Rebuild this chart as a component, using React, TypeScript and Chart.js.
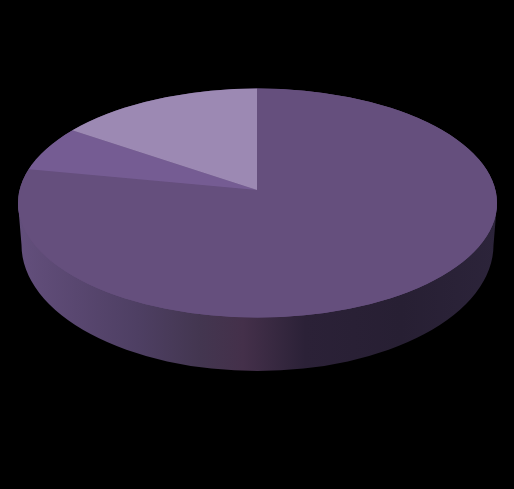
import React, { useEffect, useRef } from "react";
import { Chart, registerables } from "chart.js";

Chart.register(...registerables);

const categories = ["A", "B", "C"];
const values = [78, 6.45, 15.55];
const sliceColors = ["#654f7d", "#755c93", "#9c89b3"];

const top = { cx: 257.5, cy: 203, rx: 239.5, ry: 114.5 };
const bottom = { cx: 257.5, cy: 245, rx: 236, ry: 126 };
const apex = { x: 257, y: 190 };

const wallStops: [number, string][] = [
  [0, "#634f7c"],
  [0.12, "#594770"],
  [0.25, "#4e3f63"],
  [0.38, "#433650"],
  [0.47, "#44304a"],
  [0.6, "#2b2137"],
  [0.8, "#271f33"],
  [1, "#2c243a"],
];

const pie3d = {
  id: "pie3d",
  beforeDatasetsDraw(chart: any) {
    const ctx: CanvasRenderingContext2D = chart.ctx;
    const meta = chart.getDatasetMeta(0);
    const arc = meta.data[0];
    ctx.save();
    ctx.fillStyle = "#000";
    ctx.fillRect(0, 0, chart.width, chart.height);

    const g = ctx.createLinearGradient(top.cx - top.rx, 0, top.cx + top.rx, 0);
    wallStops.forEach(([o, c]) => g.addColorStop(o, c));
    ctx.fillStyle = g;
    ctx.beginPath();
    ctx.moveTo(top.cx - top.rx, top.cy);
    ctx.lineTo(bottom.cx - bottom.rx, bottom.cy);
    ctx.ellipse(bottom.cx, bottom.cy, bottom.rx, bottom.ry, 0, Math.PI, 0, true);
    ctx.lineTo(top.cx + top.rx, top.cy);
    ctx.closePath();
    ctx.fill();

    ctx.beginPath();
    ctx.ellipse(top.cx, top.cy, top.rx, top.ry, 0, 0, Math.PI * 2);
    ctx.fillStyle = sliceColors[0];
    ctx.fill();
    ctx.clip();
    ctx.translate(apex.x, apex.y);
    ctx.scale(1, top.ry / top.rx);
    ctx.translate(-arc.x, -arc.y);
  },
  afterDatasetsDraw(chart: any) {
    chart.ctx.restore();
  },
};

export default function App() {
  const ref = useRef<HTMLCanvasElement>(null);
  useEffect(() => {
    document.body.style.margin = "0";
    document.body.style.background = "#000";
    const chart = new Chart(ref.current!, {
      type: "pie",
      data: {
        labels: categories,
        datasets: [
          {
            data: values,
            backgroundColor: sliceColors,
            borderWidth: 0,
            clip: false,
          } as any,
        ],
      },
      options: {
        responsive: false,
        animation: false,
        radius: 320,
        plugins: { legend: { display: false }, tooltip: { enabled: false } },
      } as any,
      plugins: [pie3d],
    });
    return () => chart.destroy();
  }, []);
  return <canvas ref={ref} width={514} height={489} style={{ display: "block" }} />;
}
